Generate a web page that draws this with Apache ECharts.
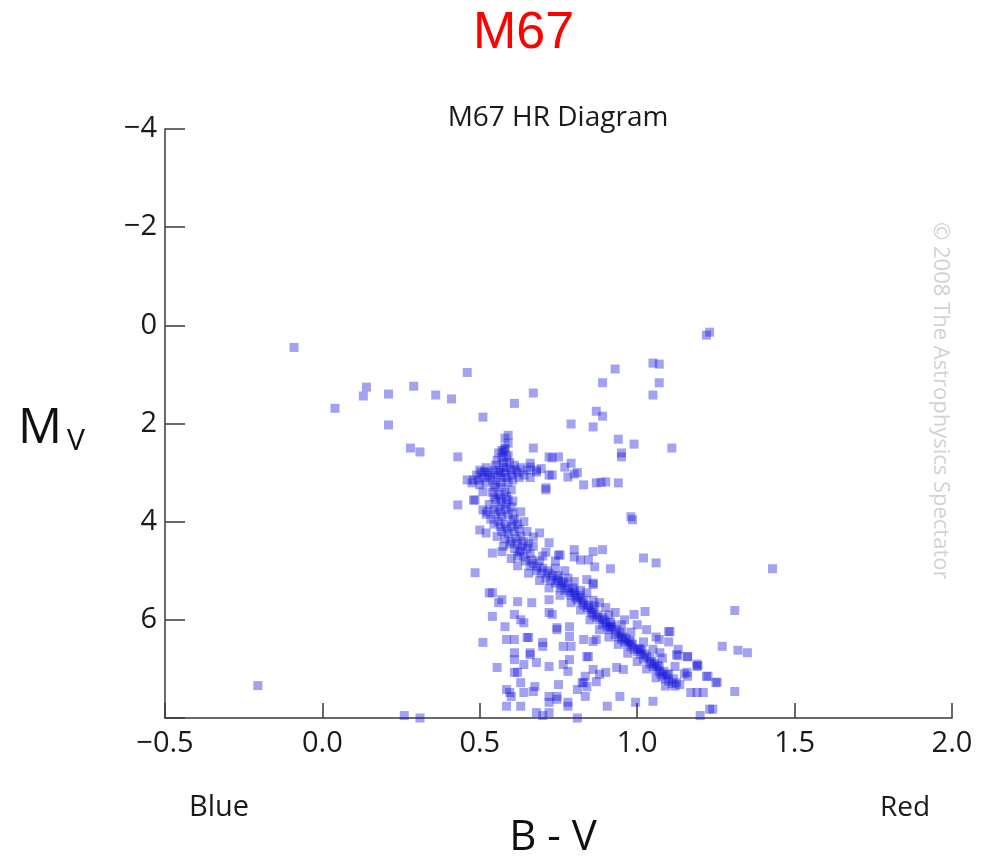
<!DOCTYPE html>
<html>
<head>
<meta charset="utf-8">
<script src="https://cdn.jsdelivr.net/npm/echarts@6/dist/echarts.min.js"></script>
<style>
html,body{margin:0;padding:0;background:#fff;}
#chart{width:991px;height:857px;}
</style>
</head>
<body>
<div id="chart"></div>
<script>
// [B-V, Mv] pairs
const giantsAndStragglers = [
  [-0.09,0.45],[0.04,1.69],[0.13,1.44],[0.14,1.26],[0.21,1.40],[0.21,2.03],[0.29,1.24],[0.28,2.50],[0.31,2.58],
  [0.36,1.42],[0.41,1.50],[0.46,0.96],[0.51,1.87],[0.43,2.68],[0.59,2.24],[0.43,3.66],[0.61,1.59],[0.67,1.38],
  [0.58,2.52],[0.67,2.50],[0.93,0.89],[0.89,1.17],[1.05,0.77],[1.07,0.79],[1.07,1.17],[1.05,1.42],[0.87,1.75],
  [0.89,1.85],[0.79,2.01],[0.86,2.07],[0.94,2.32],[0.99,2.42],[1.11,2.50],[0.95,2.60],[0.95,2.68],[0.72,2.68],
  [0.75,2.68],[1.23,0.14],[1.22,0.20],[0.575,2.58],[0.475,3.21],[0.485,3.56],[0.523,3.80],[-0.205,7.34]
];
const subgiantBranch = [
  [0.77,2.89],[0.73,3.05],[0.78,3.09],[0.80,3.03],[0.83,3.25],[0.87,3.21],[0.90,3.19],[0.94,3.21],[0.71,3.35],
  [0.66,2.89],[0.68,2.99],[0.98,3.90],[0.985,3.96],[0.66,2.81],[0.68,2.95],[0.72,3.05],[0.79,2.81],[0.81,3.00],
  [0.71,3.31],[0.73,2.70],[0.885,3.20],[0.695,2.92]
];
const turnoffStars = [
  [0.49,3.05],[0.50,2.95],[0.51,3.10],[0.52,2.90],[0.53,3.00],[0.54,3.15],[0.55,2.85],[0.555,3.05],[0.56,2.95],
  [0.57,3.10],[0.575,2.80],[0.58,3.00],[0.585,2.90],[0.59,3.20],[0.60,2.95],[0.60,3.05],[0.61,2.85],[0.62,3.00],
  [0.63,2.90],[0.64,3.05],[0.65,2.95],[0.66,3.10],[0.57,2.70],[0.59,2.65],[0.55,3.25],[0.52,3.20],[0.48,3.15],
  [0.50,3.25],[0.57,3.30],[0.60,3.35],[0.56,2.60],[0.58,2.50],[0.46,3.15],[0.48,3.56],[0.51,3.39],[0.51,3.76],
  [0.50,4.17],[0.52,4.23],[0.54,3.40],[0.56,3.45],[0.58,3.40],[0.55,3.55],[0.57,3.60],[0.59,3.55],[0.56,3.70],
  [0.58,3.75],[0.60,3.70],[0.55,3.85],[0.57,3.90],[0.59,3.85],[0.61,3.95],[0.56,4.00],[0.58,4.05],[0.60,4.10],
  [0.62,4.05],[0.57,4.20],[0.59,4.25],[0.61,4.20],[0.63,4.30],[0.58,4.35],[0.60,4.40],[0.62,4.45],[0.64,4.40],
  [0.53,3.65],[0.52,3.85],[0.63,3.80],[0.64,4.00],[0.65,4.20],
  [0.505,3.00],[0.525,3.05],[0.545,2.95],[0.565,3.00],[0.585,3.10],[0.595,2.80],[0.615,2.95],[0.625,3.10],
  [0.535,3.10],[0.515,2.98],[0.555,2.75],[0.575,2.90],[0.605,3.15],[0.565,3.20],[0.545,3.30],[0.495,3.15],
  [0.585,2.70],[0.57,2.55],[0.59,2.40],[0.58,2.30],
  [0.545,3.50],[0.565,3.52],[0.585,3.48],[0.605,3.58],[0.545,3.75],[0.565,3.80],[0.585,3.65],[0.605,3.82],
  [0.565,4.10],[0.585,4.15],[0.605,4.00],[0.625,4.15],[0.595,4.45],[0.615,4.35],[0.635,4.50],[0.655,4.45],
  [0.575,4.50],[0.555,4.30],[0.545,4.05],[0.535,3.95]
];
const mainSequence = [
  [0.61,4.55],[0.63,4.60],[0.65,4.55],[0.62,4.70],[0.64,4.72],[0.66,4.65],[0.67,4.85],[0.69,4.80],[0.66,4.90],
  [0.70,4.95],[0.68,5.00],[0.72,5.05],[0.71,5.15],[0.73,5.10],[0.74,5.25],[0.75,5.20],[0.76,5.30],[0.77,5.40],
  [0.78,5.35],[0.79,5.50],[0.80,5.45],[0.81,5.60],[0.82,5.55],[0.83,5.70],[0.84,5.75],[0.85,5.80],[0.86,5.90],
  [0.87,5.95],[0.88,6.00],[0.89,6.10],[0.90,6.05],[0.91,6.20],[0.92,6.15],[0.93,6.30],[0.94,6.35],[0.95,6.40],
  [0.96,6.45],[0.97,6.50],[0.98,6.55],[0.99,6.60],[1.00,6.65],[1.01,6.70],[1.02,6.80],[1.03,6.75],[1.04,6.90],
  [1.05,6.95],[1.06,7.00],[1.07,7.05],[1.08,7.15],[1.09,7.20],[1.10,7.25],[1.11,7.30],[1.12,7.35],[0.75,5.10],
  [0.77,5.25],[0.80,5.40],[0.83,5.60],[0.86,5.78],[0.89,5.95],[0.92,6.10],[0.95,6.28],[0.98,6.45],[1.01,6.60],
  [1.04,6.78],[1.07,6.95],[1.10,7.10],[0.70,4.70],[0.74,4.95],[0.78,5.15],[0.82,5.40],[0.86,5.60],[0.90,5.75],
  [0.93,5.85],[0.96,6.00],[1.00,6.10],[1.03,6.20],[1.06,6.35],[1.10,6.45],[1.13,6.60],[1.16,6.75],[1.19,6.90],
  [1.025,5.83],[0.99,5.89],[1.10,6.24],[1.07,6.40],[1.125,6.71],[1.16,6.75],[1.19,6.95],[1.22,7.15],[1.25,7.28],
  [1.16,7.15],[1.17,7.48],[1.21,7.48],[1.24,7.82],[1.13,6.73],[1.072,6.67],[1.193,6.93],[1.158,7.07],[1.254,7.27],
  [1.19,7.48],[1.225,7.15],[1.104,6.24],
  [0.625,4.62],[0.645,4.80],[0.665,4.78],[0.685,4.92],[0.695,5.05],[0.715,5.00],[0.725,5.20],[0.745,5.15],
  [0.755,5.35],[0.765,5.22],[0.785,5.45],[0.795,5.35],[0.805,5.55],[0.815,5.50],[0.825,5.65],[0.845,5.70],
  [0.855,5.85],[0.865,5.72],[0.875,5.90],[0.895,6.00],[0.905,6.15],[0.915,6.05],[0.935,6.20],[0.945,6.25],
  [0.955,6.35],[0.965,6.38],[0.975,6.42],[0.985,6.50],[1.005,6.58],[1.015,6.62],[1.025,6.70],[1.045,6.85],
  [1.055,6.88],[1.065,6.92],[1.075,7.10],[1.085,7.05],[1.095,7.12],[1.115,7.20],[1.125,7.28],[1.135,7.32],
  [0.60,4.75],[0.62,4.90],[0.655,5.05],[0.69,5.20],[0.72,5.35],[0.755,5.50],[0.79,5.65],[0.82,5.80],[0.85,6.00],
  [0.88,6.20],[0.91,6.35],[0.94,6.50],[0.97,6.68],[1.00,6.85],[1.03,7.00],[1.06,7.18],[1.09,7.35],
  [0.67,4.50],[0.71,4.62],[0.74,4.80],[0.77,5.00],[0.80,5.22],[0.84,5.45],[0.88,5.65],[0.91,5.90],[0.95,6.10],
  [0.98,6.25],[1.02,6.45],[1.05,6.60],[1.08,6.78],[1.12,6.95],[1.15,7.10]
];
const fieldStars = [
  [1.02,4.74],[1.06,4.84],[1.43,4.96],[1.31,5.81],[1.27,6.54],[1.32,6.62],[1.35,6.67],[1.31,7.46],[1.23,7.82],
  [0.915,4.96],[0.86,5.28],[0.84,5.18],[0.89,4.57],[0.86,4.61],[0.80,4.57],[0.755,4.68],[0.72,4.43],[0.69,4.23],
  [0.67,4.31],[0.54,4.64],[0.57,4.61],[0.485,5.04],[0.54,5.45],[0.57,5.59],[0.54,5.93],[0.62,5.63],[0.665,5.65],
  [0.61,5.89],[0.64,6.06],[0.51,6.46],[0.585,6.40],[0.655,6.36],[0.70,6.46],[0.73,5.89],[0.72,5.59],[0.745,6.16],
  [0.785,6.34],[0.79,6.54],[0.845,6.75],[0.61,6.67],[0.66,6.71],[0.68,6.87],[0.64,6.91],[0.72,6.95],[0.555,6.97],
  [0.61,7.07],[0.765,6.91],[0.63,7.28],[0.67,7.46],[0.595,7.48],[0.585,7.76],[0.63,7.76],[0.68,7.89],[0.72,7.68],
  [0.745,7.56],[0.78,7.68],[0.81,7.42],[0.84,7.36],[0.87,7.26],[0.835,7.15],[0.78,7.05],[0.75,7.32],[0.785,6.14],
  [0.80,4.72],[0.75,4.68],[0.82,4.78],[0.845,4.78],[0.865,4.92],[0.86,5.25],[0.86,6.44],[0.935,6.97],[0.88,7.11],
  [0.83,7.28],[0.945,7.56],[0.905,7.76],[0.995,7.68],[1.05,7.66],[0.835,7.56],[0.956,7.01],[0.53,5.45],[0.56,5.65],
  [0.58,6.14],[0.63,6.00],[0.65,6.36],[0.61,6.40],[0.66,6.67],[0.61,6.81],[0.62,7.07],[0.585,7.42],[0.60,7.56],
  [0.64,7.48],[0.675,7.36],[0.72,7.56],[0.745,7.62],[0.78,7.76],[0.72,7.89],[0.72,5.85],[0.745,6.20],[0.70,6.54],
  [0.765,6.54],[0.785,6.81],[0.83,6.40],[0.84,6.75],[0.825,7.28],[0.86,7.01],[0.87,6.40],[0.90,7.07],[0.915,6.14],
  [0.26,7.95],[0.31,8.00],[0.70,7.95],[0.81,8.00],[1.20,7.95]
];
const xTickValues = [-0.5, 0.0, 0.5, 1.0, 1.5, 2.0];
const yTickValues = [-4, -2, 0, 2, 4, 6];

const minus = v => (v < 0 ? '\u2212' : '') + Math.abs(v);
const chart = echarts.init(document.getElementById('chart'), null, {renderer: 'canvas'});
const markStyle = {color: 'rgba(22,22,218,0.5)'};
const allStars = [].concat(giantsAndStragglers, subgiantBranch, turnoffStars, mainSequence, fieldStars);
const axisFont = {fontFamily: 'Open Sans', fontSize: 29, color: '#1a1a1a'};

chart.setOption({
  animation: false,
  backgroundColor: '#fff',
  grid: {left: 165, right: 39, top: 129, bottom: 139, containLabel: false},
  xAxis: {
    type: 'value', min: -0.5, max: 2.0, interval: 0.5,
    axisLine: {show: true, onZero: false, lineStyle: {color: '#3a3a3a', width: 1.5}},
    axisTick: {show: true, inside: true, length: 15, lineStyle: {color: '#3a3a3a', width: 1.5}},
    splitLine: {show: false},
    axisLabel: Object.assign({margin: 11, formatter: v => xTickValues.includes(v) ? (v < 0 ? '\u2212' : '') + Math.abs(v).toFixed(1) : ''}, axisFont)
  },
  yAxis: {
    type: 'value', inverse: true, min: -4, max: 8, interval: 2,
    axisLine: {show: true, onZero: false, lineStyle: {color: '#3a3a3a', width: 1.5}},
    axisTick: {show: true, inside: true, length: 20, lineStyle: {color: '#3a3a3a', width: 1.5}},
    splitLine: {show: false},
    axisLabel: Object.assign({margin: 8, formatter: v => yTickValues.includes(v) ? minus(v) : ''}, axisFont)
  },
  series: [{
    type: 'scatter', symbol: 'rect', symbolSize: 9,
    itemStyle: markStyle, data: allStars, clip: true
  }],
  graphic: [
    {type: 'text', left: 473, top: 8, style: {text: 'M67', fontFamily: 'Liberation Sans', fontSize: 52, fill: '#ff0000'}},
    {type: 'text', x: 558, y: 118, style: {text: 'M67 HR Diagram', fontFamily: 'Open Sans', fontSize: 28, fill: '#1a1a1a', align: 'center', verticalAlign: 'middle'}},
    {type: 'text', x: 18, y: 429, style: {text: 'M', fontFamily: 'Open Sans', fontSize: 49, fill: '#111', verticalAlign: 'middle'}},
    {type: 'text', x: 67, y: 441, style: {text: 'V', fontFamily: 'Open Sans', fontSize: 30, fill: '#111', verticalAlign: 'middle'}},
    {type: 'text', x: 219, y: 808, style: {text: 'Blue', fontFamily: 'Open Sans', fontSize: 29, fill: '#1a1a1a', align: 'center', verticalAlign: 'middle'}},
    {type: 'text', x: 905, y: 808, style: {text: 'Red', fontFamily: 'Open Sans', fontSize: 28, fill: '#1a1a1a', align: 'center', verticalAlign: 'middle'}},
    {type: 'text', x: 553, y: 838, style: {text: 'B - V', fontFamily: 'Open Sans', fontSize: 42, fill: '#111', align: 'center', verticalAlign: 'middle'}},
    {type: 'text', x: 940, y: 222, rotation: -Math.PI / 2, style: {text: '\u00a9 2008 The Astrophysics Spectator', fontFamily: 'Open Sans', fontSize: 22, fill: '#d2d2d2', align: 'left', verticalAlign: 'middle'}}
  ]
});
</script>
</body>
</html>
